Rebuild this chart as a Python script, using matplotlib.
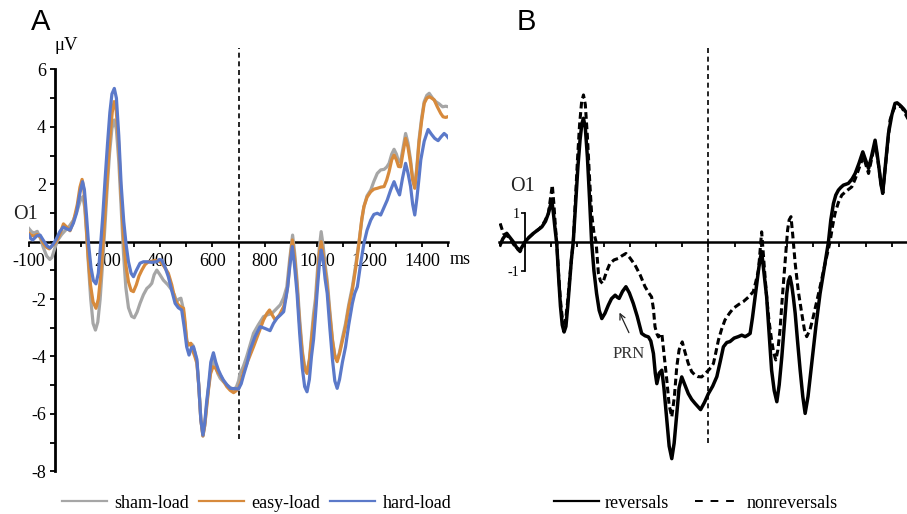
import matplotlib
matplotlib.use('Agg')
import matplotlib.pyplot as plt
from matplotlib.lines import Line2D

plt.rcParams['font.family'] = ['Liberation Serif', 'DejaVu Serif']
plt.rcParams['axes.unicode_minus'] = False

# ---- panel A: O1 waveforms per load condition (ms, uV) ----
sham_t = [-100, -90, -80, -68, -55, -45, -32, -20, -12, 0, 10, 25, 40, 55, 70, 85, 97, 106, 113, 120,
          128, 136, 145, 154, 163, 172, 181, 190, 199, 208, 217, 226, 234, 243, 252, 261, 270, 280, 292,
          302, 313, 324, 337, 350, 360, 369, 378, 388, 400, 413, 430, 445, 455, 464, 472, 480, 488, 496,
          503, 509, 517, 525, 533, 541, 548, 556, 564, 571, 578, 585, 593, 602, 612, 621, 630, 642, 655,
          668, 681, 692, 700, 705, 718, 731, 744, 757, 775, 795, 810, 827, 843, 859, 872, 884, 895, 906,
          914, 923, 933, 943, 952, 961, 970, 978, 986, 993, 1000, 1008, 1015, 1022, 1030, 1038, 1048,
          1058, 1067, 1076, 1085, 1096, 1108, 1120, 1134, 1147, 1160, 1170, 1178, 1190, 1204, 1216, 1229,
          1242, 1255, 1265, 1274, 1284, 1293, 1302, 1310, 1318, 1328, 1337, 1346, 1356, 1364, 1372, 1380,
          1388, 1398, 1408, 1418, 1427, 1440, 1452, 1465, 1478, 1490, 1500]
sham_v = [0.46, 0.35, 0.3, 0.36, 0.1, -0.2, -0.5, -0.62, -0.55, -0.2, 0.05, 0.25, 0.4, 0.55, 0.75, 1.1,
          1.45, 1.57, 1.2, 0.3, -0.9, -2.0, -2.85, -3.08, -2.8, -2.0, -0.8, 0.5, 1.9, 3.1, 3.95, 4.24,
          3.9, 2.8, 1.2, -0.4, -1.6, -2.3, -2.6, -2.65, -2.45, -2.15, -1.85, -1.63, -1.55, -1.45, -1.15,
          -0.99, -1.15, -1.34, -1.5, -1.68, -1.85, -2.09, -2.0, -1.97, -2.3, -2.96, -3.45, -3.6, -3.55,
          -3.6, -3.85, -4.18, -5.0, -6.2, -6.77, -6.4, -5.7, -5.11, -4.5, -4.12, -4.35, -4.6, -4.76,
          -4.88, -4.99, -5.08, -5.17, -5.05, -4.85, -4.6, -4.35, -4.0, -3.6, -3.19, -2.9, -2.61, -2.55,
          -2.5, -2.35, -2.2, -1.95, -1.57, -0.6, 0.23, -0.4, -1.34, -2.7, -3.8, -4.35, -4.53, -4.1,
          -3.3, -2.5, -2.0, -1.1, -0.2, 0.35, -0.1, -0.8, -1.34, -2.4, -3.4, -3.95, -4.12, -3.85, -3.35,
          -2.85, -2.2, -1.57, -0.8, 0.06, 0.75, 1.22, 1.6, 1.8, 2.1, 2.38, 2.5, 2.52, 2.6, 2.73, 3.05,
          3.22, 3.05, 2.8, 2.79, 3.3, 3.77, 3.45, 2.85, 2.2, 1.92, 2.6, 3.54, 4.3, 4.88, 5.1, 5.17, 5.0,
          4.88, 4.8, 4.7, 4.72, 4.7]

easy_t = [-100, -90, -80, -68, -55, -45, -32, -22, -12, 0, 10, 22, 32, 45, 57, 70, 85, 95, 103, 110,
          118, 126, 135, 145, 156, 165, 174, 183, 192, 201, 210, 218, 225, 233, 242, 251, 260, 270, 280,
          290, 299, 310, 320, 331, 343, 356, 370, 385, 401, 415, 432, 445, 458, 470, 480, 490, 496, 502,
          510, 518, 525, 533, 541, 548, 556, 564, 571, 578, 585, 593, 602, 612, 621, 630, 642, 655, 668,
          681, 690, 700, 710, 719, 738, 757, 776, 795, 808, 818, 828, 840, 856, 872, 880, 887, 896, 905,
          913, 923, 933, 943, 952, 961, 970, 978, 986, 993, 1000, 1008, 1015, 1022, 1030, 1038, 1048,
          1058, 1067, 1076, 1085, 1096, 1108, 1120, 1134, 1147, 1160, 1170, 1178, 1190, 1204, 1216, 1229,
          1242, 1255, 1265, 1274, 1284, 1293, 1302, 1310, 1318, 1328, 1337, 1346, 1356, 1364, 1372, 1380,
          1388, 1398, 1408, 1418, 1427, 1437, 1446, 1458, 1471, 1480, 1490, 1500]
easy_v = [0.3, 0.22, 0.2, 0.25, 0.15, -0.05, -0.2, -0.25, -0.15, -0.05, 0.1, 0.35, 0.62, 0.5, 0.38,
          0.7, 1.3, 1.9, 2.17, 1.8, 0.7, -0.5, -1.5, -2.1, -2.32, -2.0, -1.2, -0.1, 1.2, 2.5, 3.7, 4.5,
          4.88, 4.6, 3.5, 1.8, 0.3, -0.8, -1.4, -1.7, -1.74, -1.5, -1.2, -0.99, -0.8, -0.7, -0.68, -0.65,
          -0.7, -0.85, -1.1, -1.5, -2.03, -2.2, -2.28, -2.32, -2.8, -3.48, -3.6, -3.54, -3.8, -4.0, -4.24,
          -5.0, -6.2, -6.77, -6.4, -5.8, -5.17, -4.6, -4.36, -4.4, -4.55, -4.65, -4.85, -5.05, -5.18,
          -5.26, -5.2, -5.11, -4.85, -4.53, -4.1, -3.66, -3.2, -2.73, -2.5, -2.38, -2.55, -2.73, -2.55,
          -2.26, -1.95, -1.57, -0.7, 0.06, -0.5, -1.57, -2.9, -3.9, -4.45, -4.59, -4.15, -3.45, -2.75,
          -2.3, -1.4, -0.4, 0.0, -0.4, -1.0, -1.57, -2.55, -3.45, -4.0, -4.18, -3.9, -3.45, -2.96, -2.3,
          -1.68, -0.9, 0.0, 0.8, 1.22, 1.55, 1.74, 1.83, 1.86, 1.9, 1.92, 2.15, 2.44, 2.85, 3.02, 2.85,
          2.62, 2.61, 3.15, 3.6, 3.3, 2.73, 2.15, 1.86, 2.5, 3.43, 4.2, 4.82, 5.0, 5.05, 5.0, 4.94, 4.7,
          4.47, 4.35, 4.33, 4.36]

hard_t = [-100, -92, -85, -70, -57, -45, -30, -19, -8, 5, 18, 31, 44, 57, 70, 82, 95, 105, 112, 120,
          128, 137, 146, 156, 165, 173, 182, 191, 200, 209, 217, 226, 234, 243, 252, 262, 271, 280, 290,
          299, 310, 324, 337, 350, 368, 388, 398, 407, 420, 432, 445, 458, 470, 483, 493, 502, 511, 520,
          528, 535, 541, 548, 556, 564, 571, 578, 585, 594, 604, 613, 623, 632, 642, 655, 668, 685, 700,
          710, 719, 732, 744, 763, 782, 800, 820, 833, 846, 860, 872, 880, 887, 896, 905, 913, 923, 933,
          943, 952, 961, 970, 978, 986, 993, 1000, 1008, 1015, 1022, 1030, 1038, 1048, 1058, 1067, 1076,
          1085, 1096, 1108, 1120, 1134, 1143, 1153, 1165, 1178, 1190, 1204, 1216, 1229, 1242, 1255, 1267,
          1280, 1293, 1303, 1314, 1325, 1337, 1346, 1356, 1364, 1372, 1380, 1388, 1395, 1408, 1423, 1435,
          1448, 1461, 1472, 1484, 1493, 1500]
hard_v = [0.23, 0.1, 0.06, 0.2, 0.23, 0.05, -0.15, -0.22, -0.1, 0.1, 0.35, 0.51, 0.45, 0.4, 0.65, 1.0,
          1.7, 2.09, 1.8, 0.9, -0.1, -0.9, -1.35, -1.47, -1.1, -0.2, 0.9, 2.2, 3.4, 4.5, 5.15, 5.34, 5.0,
          3.7, 2.0, 0.7, -0.1, -0.7, -1.1, -1.22, -1.0, -0.75, -0.7, -0.7, -0.72, -0.7, -0.62, -0.64,
          -0.9, -1.22, -1.7, -2.15, -2.3, -2.38, -3.0, -3.66, -3.95, -3.7, -3.66, -3.9, -4.1, -5.0, -6.2,
          -6.74, -6.3, -5.6, -5.05, -4.2, -3.87, -4.2, -4.47, -4.65, -4.82, -4.98, -5.11, -5.12, -5.13,
          -4.95, -4.65, -4.25, -3.77, -3.3, -2.96, -3.02, -3.1, -2.85, -2.67, -2.55, -2.44, -2.0, -1.6,
          -0.8, -0.17, -0.8, -1.8, -3.2, -4.4, -5.05, -5.23, -4.8, -4.0, -3.4, -2.6, -1.7, -0.8, -0.29,
          -0.6, -1.3, -1.8, -3.0, -4.1, -4.85, -5.11, -4.8, -4.2, -3.66, -2.9, -2.15, -1.8, -1.57, -0.8,
          -0.06, 0.4, 0.75, 0.95, 0.99, 0.93, 1.2, 1.45, 1.8, 2.09, 1.85, 1.63, 2.2, 2.73, 2.4, 1.92, 1.3,
          0.93, 1.5, 2.2, 2.85, 3.5, 3.91, 3.75, 3.6, 3.52, 3.65, 3.77, 3.7, 3.62]

# ---- panel B: reversals vs nonreversals ----
rev_t = [-95, -85, -70, -58, -45, -32, -19, -10, 0, 15, 32, 48, 64, 78, 89, 97, 102, 108, 115, 121,
         128, 135, 142, 149, 156, 163, 170, 177, 184, 193, 202, 210, 217, 223, 230, 238, 246, 254, 263,
         273, 283, 293, 305, 318, 330, 344, 352, 359, 372, 385, 398, 413, 428, 445, 458, 471, 480, 490,
         497, 503, 512, 522, 530, 541, 550, 560, 569, 579, 588, 598, 610, 623, 636, 649, 660, 670, 685,
         700, 716, 732, 745, 757, 770, 782, 798, 814, 827, 840, 850, 859, 868, 878, 885, 891, 897, 903,
         910, 916, 922, 931, 941, 951, 961, 970, 980, 990, 999, 1005, 1011, 1018, 1024, 1031, 1040, 1050,
         1060, 1069, 1080, 1094, 1110, 1126, 1142, 1158, 1167, 1177, 1186, 1196, 1205, 1215, 1234, 1248,
         1260, 1275, 1289, 1300, 1311, 1323, 1336, 1344, 1352, 1358, 1365, 1375, 1387, 1400, 1412, 1420,
         1431, 1445, 1457, 1465]
rev_v = [-0.11, 0.1, 0.29, 0.15, 0.0, -0.2, -0.29, -0.15, 0.0, 0.15, 0.29, 0.4, 0.51, 0.7, 0.97, 1.25,
         1.43, 1.0, 0.4, -0.06, -1.2, -2.2, -2.85, -3.09, -2.9, -2.2, -1.4, -0.6, 0.0, 1.3, 2.6, 3.5,
         4.05, 4.23, 3.9, 2.9, 1.5, 0.0, -1.0, -1.77, -2.35, -2.63, -2.45, -2.17, -1.95, -1.83, -1.9,
         -1.94, -1.7, -1.54, -1.75, -2.11, -2.55, -3.14, -3.22, -3.26, -3.4, -3.83, -4.5, -4.86, -4.5,
         -4.4, -5.0, -6.11, -7.0, -7.43, -6.9, -5.89, -5.0, -4.63, -4.9, -5.2, -5.4, -5.54, -5.65, -5.75,
         -5.5, -5.2, -4.95, -4.62, -4.1, -3.6, -3.45, -3.42, -3.3, -3.25, -3.2, -3.25, -3.2, -3.14, -2.6,
         -1.88, -1.4, -0.97, -0.6, -0.34, -0.9, -1.4, -1.88, -3.1, -4.4, -5.1, -5.48, -4.9, -3.94, -2.8,
         -1.77, -1.35, -1.2, -1.5, -1.9, -2.45, -3.4, -4.4, -5.3, -5.88, -5.3, -4.17, -2.9, -1.77, -0.9,
         0.0, 0.75, 1.31, 1.6, 1.77, 1.86, 1.94, 2.0, 2.15, 2.34, 2.7, 3.08, 2.8, 2.51, 2.95, 3.48, 3.0,
         2.45, 2.0, 1.66, 2.6, 3.71, 4.35, 4.74, 4.76, 4.68, 4.55, 4.4, 4.3]

nonrev_t = [-95, -83, -64, -50, -38, -19, -10, 0, 15, 32, 45, 57, 75, 89, 97, 104, 110, 116, 121, 128,
            135, 142, 149, 156, 163, 170, 177, 184, 192, 200, 208, 216, 223, 230, 238, 246, 254, 263, 271,
            280, 288, 296, 310, 324, 340, 356, 370, 385, 400, 420, 440, 458, 472, 483, 490, 496, 503, 509,
            515, 522, 531, 541, 550, 560, 570, 579, 588, 600, 611, 623, 636, 649, 660, 674, 687, 700, 710,
            719, 728, 738, 750, 763, 780, 795, 815, 833, 852, 871, 880, 891, 897, 903, 910, 916, 922, 931,
            941, 949, 957, 965, 973, 982, 992, 1002, 1008, 1015, 1022, 1031, 1043, 1056, 1066, 1075, 1088,
            1100, 1113, 1126, 1145, 1164, 1173, 1183, 1196, 1209, 1228, 1247, 1260, 1272, 1282, 1292, 1302,
            1311, 1323, 1336, 1344, 1352, 1358, 1365, 1379, 1393, 1403, 1412, 1425, 1437, 1447, 1457, 1465]
nonrev_v = [0.63, 0.29, 0.17, 0.0, -0.17, -0.34, -0.2, 0.0, 0.15, 0.29, 0.38, 0.46, 0.7, 0.97, 1.5,
            1.94, 1.3, 0.5, -0.06, -1.1, -2.0, -2.6, -2.8, -2.6, -2.0, -1.3, -0.6, 0.0, 1.4, 2.8, 4.0,
            4.8, 5.03, 4.7, 3.6, 2.2, 0.97, 0.3, 0.0, -1.09, -1.35, -1.43, -1.05, -0.74, -0.62, -0.57,
            -0.48, -0.4, -0.55, -0.8, -1.15, -1.54, -1.75, -1.89, -2.3, -2.91, -3.15, -3.26, -3.2, -3.14,
            -3.9, -4.74, -5.6, -6.0, -5.3, -4.29, -3.7, -3.43, -3.8, -4.17, -4.45, -4.57, -4.62, -4.63,
            -4.52, -4.4, -4.3, -4.17, -3.8, -3.37, -3.0, -2.68, -2.45, -2.28, -2.15, -2.05, -1.9, -1.71,
            -1.4, -0.97, -0.3, 0.34, -0.5, -1.2, -1.88, -2.7, -3.37, -3.8, -4.05, -3.7, -3.03, -1.9, -0.74,
            0.4, 0.75, 0.86, 0.2, -0.74, -1.7, -2.45, -3.0, -3.25, -3.0, -2.57, -2.05, -1.54, -0.75, 0.0,
            0.5, 0.97, 1.35, 1.6, 1.75, 1.88, 2.15, 2.45, 2.7, 2.91, 2.6, 2.34, 2.85, 3.37, 2.95, 2.45,
            2.0, 1.66, 2.9, 4.17, 4.45, 4.62, 4.65, 4.62, 4.45, 4.28, 4.15]

labels_A = ['sham-load', 'easy-load', 'hard-load']
colors_A = ['#a6a6a6', '#d78a3c', '#5b79c9']
labels_B = ['reversals', 'nonreversals']
x_labels = [-100, 200, 400, 600, 800, 1000, 1200, 1400]
y_labels = [-8, -6, -4, -2, 2, 4, 6]
marker_t = 700

fig = plt.figure(figsize=(9.07, 5.14), dpi=100)
axA = fig.add_axes([0.0318, 0.0831, 0.4625, 0.8264])
axB = fig.add_axes([0.550, 0.0753, 0.4622, 0.8405])

for ax in (axA, axB):
    ax.set_xlim(-100, 1500)
    ax.set_ylim(-8, 6.8)
    ax.spines['top'].set_visible(False)
    ax.spines['right'].set_visible(False)
    ax.spines['left'].set_position(('data', 0))
    ax.spines['bottom'].set_position(('data', 0))
    ax.spines['bottom'].set_linewidth(1.8)
    ax.spines['bottom'].set_bounds(-100, 1500)
    ax.plot([marker_t, marker_t], [-6.88, 6.75], color='k', lw=1.2, dashes=(3, 2.2))

# panel A
for t, v, c in zip([sham_t, easy_t, hard_t], [sham_v, easy_v, hard_v], colors_A):
    axA.plot(t, v, color=c, lw=2.3, solid_joinstyle='round', zorder=3)

axA.spines['left'].set_linewidth(2.0)
axA.spines['left'].set_bounds(-8, 6)
xt = list(range(-100, 1501, 100))
axA.set_xticks(xt)
axA.set_xticklabels([str(t) if t in x_labels else '' for t in xt])
yt = list(range(-8, 7))
axA.set_yticks(yt)
axA.set_yticklabels([str(v) if v in y_labels else '' for v in yt])
axA.tick_params(axis='x', direction='out', length=3.5, width=1.3, pad=5, labelsize=13)
axA.tick_params(axis='y', direction='out', length=3.5, width=1.3, pad=3, labelsize=13)
axA.text(1505, -0.33, 'ms', fontsize=13, ha='left', va='top')
axA.text(-3, 6.85, 'μV', fontsize=13.5, ha='left', va='center')
axA.text(-112, 0.93, 'O1', fontsize=14.5, ha='center', va='center', color='#222222')

# panel B
axB.plot(rev_t, rev_v, color='k', lw=2.5, solid_joinstyle='round', zorder=3)
axB.plot(nonrev_t, nonrev_v, color='k', lw=2.2, dashes=(2.2, 1.2), zorder=3)
axB.spines['left'].set_linewidth(1.3)
axB.spines['left'].set_bounds(-1, 1)
axB.set_xticks(list(range(0, 1501, 100)))
axB.set_xticklabels([])
axB.set_yticks([-1, 1])
axB.set_yticklabels(['-1', '1'])
axB.tick_params(axis='x', direction='out', length=3.5, width=1.3)
axB.tick_params(axis='y', direction='out', length=3, width=1.2, pad=1, labelsize=10)
axB.text(-11, 1.9, 'O1', fontsize=14.5, ha='center', va='center', color='#222222')
axB.annotate('', xy=(356, -2.34), xytext=(401, -3.2),
             arrowprops=dict(arrowstyle='->', lw=0.9, color='#222222'))
axB.text(394, -3.85, 'PRN', fontsize=12, ha='center', va='center', color='#333333')

# panel letters
fig.text(0.045, 0.957, 'A', fontsize=21, family='Liberation Sans', ha='center', va='center')
fig.text(0.580, 0.957, 'B', fontsize=21, family='Liberation Sans', ha='center', va='center')

# legends
hA = [Line2D([], [], color=c, lw=1.6) for c in colors_A]
fig.legend(hA, labels_A, loc='center', bbox_to_anchor=(0.2828, 0.0214), ncol=3, frameon=False,
           fontsize=13, handlelength=2.5, handletextpad=0.4, columnspacing=0.55)
hB = [Line2D([], [], color='k', lw=1.6),
      Line2D([], [], color='k', lw=1.4, dashes=(4, 4))]
fig.legend(hB, labels_B, loc='center', bbox_to_anchor=(0.7668, 0.0214), ncol=2, frameon=False,
           fontsize=13, handlelength=2.5, handletextpad=0.35, columnspacing=1.4)

fig.savefig('out.png', dpi=100)
